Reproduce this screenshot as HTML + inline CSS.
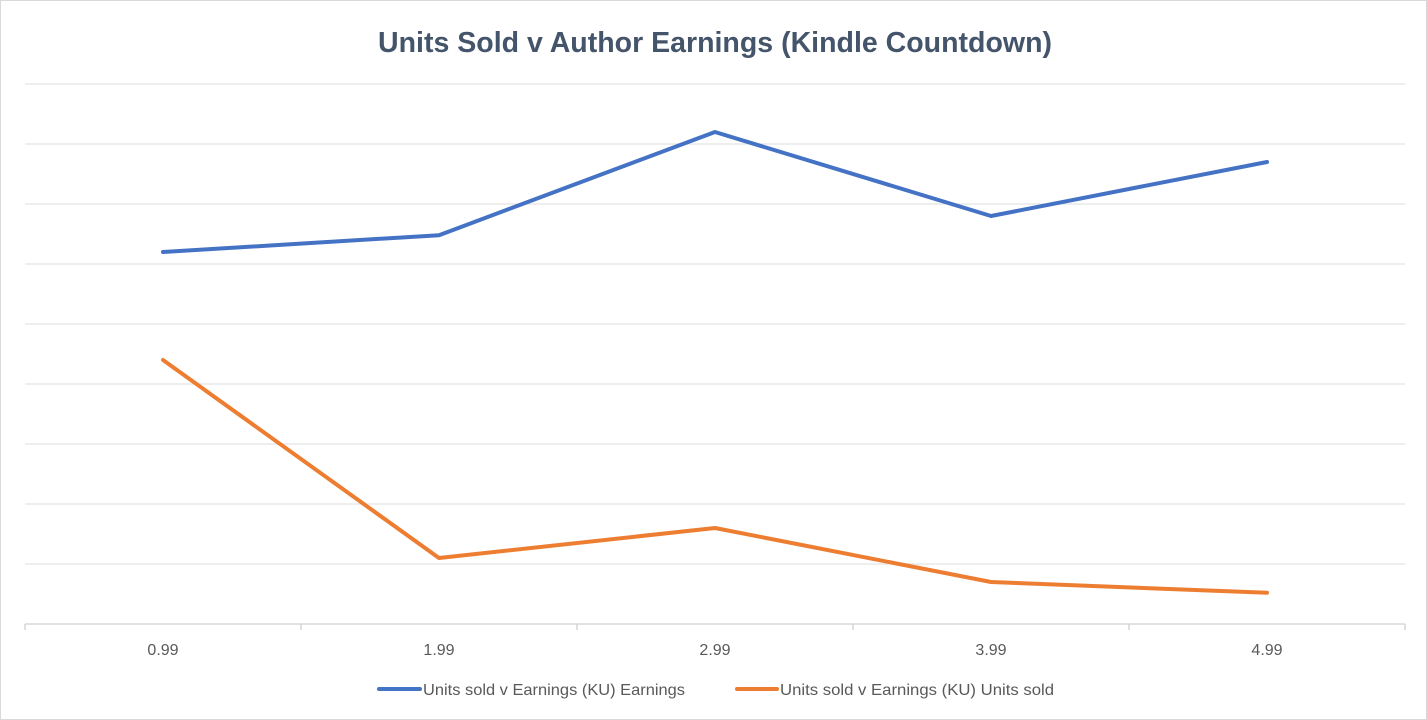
<!DOCTYPE html>
<html><head><meta charset="utf-8"><style>
html,body{margin:0;padding:0;background:#fff}
svg{display:block;font-family:"Liberation Sans",Calibri,sans-serif}
</style></head><body>
<svg id="chart" width="1427" height="720" viewBox="0 0 1427 720">
<rect x="0.5" y="0.5" width="1426" height="719" fill="#fff" stroke="#d9d9d9"/>
<text x="378" y="52" textLength="674" lengthAdjust="spacingAndGlyphs" font-size="29" font-weight="bold" fill="#44546a">Units Sold v Author Earnings (Kindle Countdown)</text>
<g id="grid"></g><g id="xaxis"></g><g id="series"></g>
<g>
<g>
<line x1="379" y1="689" x2="420" y2="689" stroke="#4472c4" stroke-width="4" stroke-linecap="round"/>
<text x="423" y="695" textLength="262" lengthAdjust="spacingAndGlyphs" font-size="16" fill="#595959">Units sold v Earnings (KU) Earnings</text></g>
<g>
<line x1="737" y1="689" x2="777" y2="689" stroke="#ed7d31" stroke-width="4" stroke-linecap="round"/>
<text x="780" y="695" textLength="274" lengthAdjust="spacingAndGlyphs" font-size="16" fill="#595959">Units sold v Earnings (KU) Units sold</text></g>
</g>
</svg>
<script>
const categories=["0.99","1.99","2.99","3.99","4.99"];
const earnings=[6.2,6.48,8.2,6.8,7.7];
const unitsSold=[4.4,1.1,1.6,0.7,0.52];
const gridTicks=[0,1,2,3,4,5,6,7,8,9];
const NS="http://www.w3.org/2000/svg";
const left=25,right=1405,bottom=624,unit=60;
const band=(right-left)/categories.length;
const xs=i=>left+band*(i+0.5);
const ys=v=>bottom-v*unit;
function mk(tag,attrs,parent){const e=document.createElementNS(NS,tag);for(const k in attrs)e.setAttribute(k,attrs[k]);parent.appendChild(e);return e;}
const grid=document.getElementById('grid');
gridTicks.forEach(t=>{
 const l=mk('line',{x1:left,x2:right,y1:ys(t),y2:ys(t),stroke:t===0?'#d0d0d0':'#e3e3e3','stroke-width':1.3},grid);
 
 
});
const xa=document.getElementById('xaxis');
for(let i=0;i<=categories.length;i++){
 const t=mk('line',{x1:left+band*i,x2:left+band*i,y1:bottom,y2:bottom+6,stroke:'#d0d0d0','stroke-width':1.3},xa);
 
 
}
categories.forEach((c,i)=>{
 const t=mk('text',{x:xs(i),y:655,'text-anchor':'middle','font-size':16,fill:'#595959'},xa);
 t.textContent=c;
 
 
});
const sg=document.getElementById('series');
[[earnings,'#4472c4','earnings-line'],[unitsSold,'#ed7d31','units-sold-line']].forEach(([d,col,name])=>{
 const p=mk('polyline',{points:d.map((v,i)=>xs(i)+','+ys(v)).join(' '),fill:'none',stroke:col,'stroke-width':4,'stroke-linejoin':'round','stroke-linecap':'round'},sg);
 
 
});
</script>
</body></html>
